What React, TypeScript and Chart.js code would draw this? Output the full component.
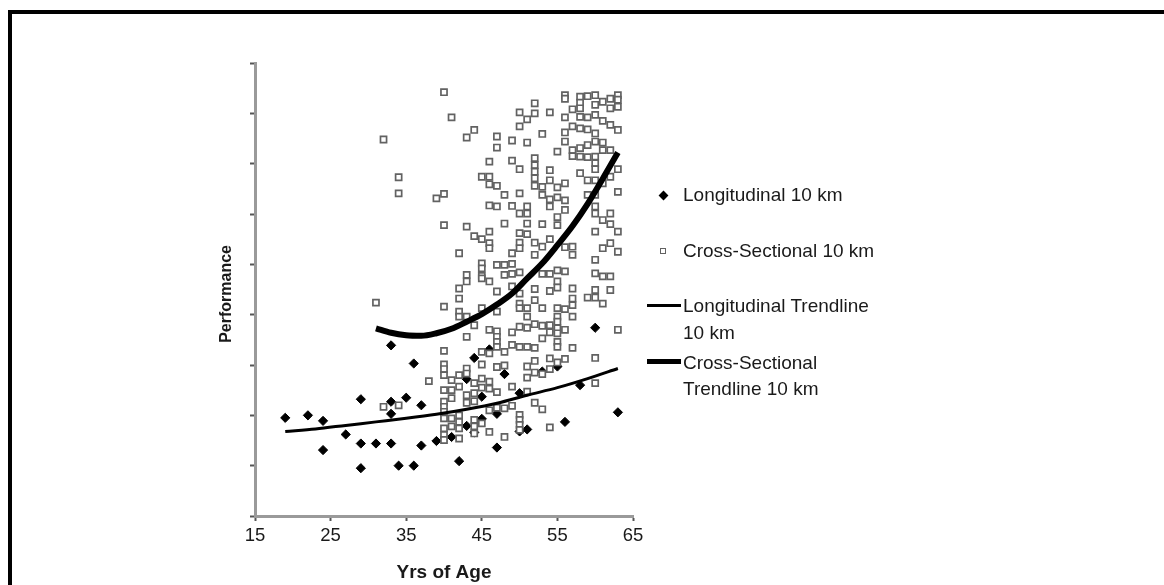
import React, { useEffect, useRef } from "react";
import { Chart, registerables } from "chart.js";

Chart.register(...registerables);

const FONT = '"Liberation Sans", Arial, sans-serif';
const TEXT = "#1a1a1a";

// X axis ticks (years of age)
const xMin = 15;
const xMax = 65;
const xStep = 10;
// Y axis (performance, unlabelled ticks)
const yMin = 0;
const yMax = 9;
const yStep = 1;

const legendLabels = [
  "Longitudinal 10 km",
  "Cross-Sectional 10 km",
  "Longitudinal Trendline 10 km",
  "Cross-Sectional Trendline 10 km",
];

// Longitudinal 10 km (diamonds)
const longitudinalAge = [19, 22, 24, 24, 27, 29, 29, 29, 31, 33, 33, 33, 33, 34, 35, 36, 36, 37, 37, 39, 41, 42, 43, 43, 44, 44, 45, 45, 46, 47, 47, 48, 50, 50, 51, 53, 55, 56, 58, 60, 63];
const longitudinalPerf = [1.95, 2.0, 1.89, 1.31, 1.62, 2.32, 1.44, 0.95, 1.44, 3.39, 2.27, 2.03, 1.44, 1.0, 2.35, 3.03, 1.0, 2.2, 1.4, 1.49, 1.57, 1.09, 1.79, 2.72, 3.14, 1.66, 2.37, 1.93, 3.31, 2.03, 1.36, 2.82, 2.44, 1.68, 1.72, 2.87, 2.97, 1.87, 2.6, 3.74, 2.06];

// Cross-Sectional 10 km (open squares): [age, performances at that age]
const crossSectional: [number, number[]][] = [
  [31, [4.24]],
  [32, [7.48, 2.17]],
  [34, [6.73, 6.41, 2.2]],
  [38, [2.68]],
  [39, [6.31]],
  [40, [8.42, 6.4, 5.78, 4.16, 3.28, 3.01, 2.92, 2.8, 2.5, 2.27, 2.17, 2.07, 1.94, 1.74, 1.61, 1.51]],
  [41, [7.92, 2.7, 2.5, 2.34, 1.94, 1.78]],
  [42, [5.22, 4.52, 4.32, 4.06, 3.96, 2.8, 2.57, 2.0, 1.87, 1.74, 1.54]],
  [43, [7.52, 5.75, 4.79, 4.66, 3.96, 3.56, 2.93, 2.83, 2.4, 2.25]],
  [44, [7.67, 5.56, 3.79, 2.64, 2.44, 2.28, 1.91, 1.78, 1.64]],
  [45, [6.74, 5.5, 5.02, 4.92, 4.77, 4.72, 4.13, 3.26, 3.01, 2.73, 2.55, 1.84]],
  [46, [7.04, 6.74, 6.59, 6.17, 5.65, 5.42, 5.32, 4.66, 3.7, 3.23, 2.67, 2.53, 2.1, 1.67]],
  [47, [7.54, 7.32, 6.56, 6.15, 4.99, 4.46, 4.06, 3.67, 3.56, 3.46, 3.36, 2.96, 2.46, 2.15]],
  [48, [6.38, 5.81, 4.99, 4.79, 3.26, 2.99, 2.14, 1.57]],
  [49, [7.46, 7.06, 6.16, 5.22, 5.01, 4.81, 4.56, 3.65, 3.4, 2.57, 2.19]],
  [50, [8.02, 7.74, 6.89, 6.41, 6.01, 5.62, 5.43, 5.32, 4.84, 4.42, 4.22, 4.13, 3.76, 3.36, 2.01, 1.91, 1.81, 1.71]],
  [51, [7.88, 7.42, 6.15, 6.01, 5.81, 5.6, 4.13, 3.96, 3.74, 3.36, 2.97, 2.75, 2.47]],
  [52, [8.2, 8.0, 7.11, 6.97, 6.84, 6.71, 6.56, 5.43, 5.19, 4.51, 4.29, 3.81, 3.34, 3.08, 2.85, 2.25]],
  [53, [7.59, 6.54, 6.38, 5.8, 5.35, 4.81, 4.13, 3.78, 3.53, 2.82, 2.12]],
  [54, [8.02, 6.87, 6.67, 6.29, 6.15, 5.5, 4.81, 4.47, 3.79, 3.65, 3.13, 2.92, 1.76]],
  [55, [7.24, 6.53, 6.33, 5.94, 5.78, 4.88, 4.66, 4.54, 4.13, 3.96, 3.86, 3.73, 3.63, 3.46, 3.36, 3.05]],
  [56, [8.36, 8.29, 7.92, 7.62, 7.44, 6.61, 6.27, 6.08, 5.34, 4.86, 4.11, 3.7, 3.12]],
  [57, [8.08, 7.74, 7.27, 7.15, 5.35, 5.19, 4.52, 4.32, 4.19, 3.96, 3.34]],
  [58, [8.33, 8.21, 8.1, 7.93, 7.7, 7.31, 7.14, 6.81]],
  [59, [8.34, 7.92, 7.68, 7.37, 7.13, 6.67, 6.38, 4.34]],
  [60, [8.36, 8.17, 7.97, 7.6, 7.44, 7.14, 7.01, 6.89, 6.67, 6.38, 6.15, 6.01, 5.65, 5.09, 4.82, 4.49, 4.34, 3.14, 2.64]],
  [61, [8.23, 7.85, 7.42, 7.27, 6.61, 5.88, 5.32, 4.76, 4.22]],
  [62, [8.29, 8.1, 7.77, 7.27, 6.74, 6.01, 5.8, 5.42, 4.76, 4.49]],
  [63, [8.36, 8.27, 8.13, 7.67, 6.89, 6.44, 5.65, 5.25, 3.7]],
];

// Trendlines
const longTrendAge = [19, 23, 27, 31, 35, 39, 43, 47, 51, 55, 59, 63];
const longTrendPerf = [1.68, 1.73, 1.8, 1.87, 1.94, 2.02, 2.12, 2.24, 2.4, 2.55, 2.73, 2.93];
const crossTrendAge = [31, 33, 35, 37, 39, 41, 43, 45, 47, 49, 51, 53, 55, 57, 59, 61, 63];
const crossTrendPerf = [3.73, 3.64, 3.59, 3.58, 3.63, 3.72, 3.86, 4.01, 4.2, 4.42, 4.72, 5.02, 5.38, 5.76, 6.2, 6.7, 7.22];

const zip = (xs: number[], ys: number[]) => xs.map((x, i) => ({ x, y: ys[i] }));

export default function App() {
  const ref = useRef<HTMLCanvasElement>(null);

  useEffect(() => {
    if (!ref.current) return;
    const crossPoints = crossSectional.flatMap(([age, vals]) => vals.map((v) => ({ x: age, y: v })));
    const chart = new Chart(ref.current, {
      type: "scatter",
      data: {
        datasets: [
          {
            label: legendLabels[0],
            data: zip(longitudinalAge, longitudinalPerf),
            pointStyle: "rectRot",
            pointRadius: 4.6,
            backgroundColor: "#000",
            borderColor: "#000",
            borderWidth: 1,
            order: 3,
          },
          {
            label: legendLabels[1],
            data: crossPoints,
            pointStyle: "rect",
            pointRadius: 4.3,
            backgroundColor: "#fff",
            borderColor: "#626262",
            borderWidth: 1.7,
            order: 2,
          },
          {
            label: legendLabels[2],
            data: zip(longTrendAge, longTrendPerf),
            showLine: true,
            pointRadius: 0,
            borderColor: "#000",
            borderWidth: 3,
            cubicInterpolationMode: "monotone",
            order: 1,
          } as any,
          {
            label: legendLabels[3],
            data: zip(crossTrendAge, crossTrendPerf),
            showLine: true,
            pointRadius: 0,
            borderColor: "#000",
            borderWidth: 6,
            cubicInterpolationMode: "monotone",
            order: 0,
          } as any,
        ],
      },
      options: {
        responsive: false,
        maintainAspectRatio: false,
        animation: false,
        layout: { padding: { left: 0, top: 63, right: 531, bottom: 0 } },
        plugins: { legend: { display: false }, tooltip: { enabled: false } },
        font: { family: FONT },
        scales: {
          x: {
            type: "linear",
            min: xMin,
            max: xMax,
            ticks: { stepSize: xStep, color: TEXT, font: { size: 18.5, family: FONT }, padding: 4 },
            grid: { drawOnChartArea: false, drawTicks: true, tickLength: 5, tickWidth: 2, tickColor: "#555" },
            border: { display: true, color: "#9a9a9a", width: 3 },
            title: {
              display: true,
              text: "Yrs of Age",
              color: TEXT,
              font: { size: 19, weight: "bold", family: FONT },
              padding: { top: 0, bottom: 1 },
            },
            afterFit: (s: any) => {
              s.height = 69;
            },
          },
          y: {
            type: "linear",
            min: yMin,
            max: yMax,
            ticks: { stepSize: yStep, display: false },
            grid: { drawOnChartArea: false, drawTicks: true, tickLength: 5, tickWidth: 2, tickColor: "#555" },
            border: { display: true, color: "#9a9a9a", width: 3 },
            title: {
              display: true,
              text: "Performance  ",
              color: TEXT,
              font: { size: 16, weight: "bold", family: FONT },
              padding: { top: 217, bottom: 0 },
            },
            afterFit: (s: any) => {
              s.width = 255;
            },
          },
        },
      } as any,
    });
    return () => chart.destroy();
  }, []);

  const textStyle: React.CSSProperties = {
    position: "absolute",
    left: 683,
    fontFamily: FONT,
    fontSize: 19,
    lineHeight: "26.5px",
    color: TEXT,
    whiteSpace: "nowrap",
  };

  return (
    <div style={{ position: "absolute", left: 0, top: 0, width: 1164, height: 585, background: "#fff", overflow: "hidden" }}>
      <div
        style={{
          position: "absolute",
          left: 8,
          top: 10,
          width: 1160,
          height: 580,
          borderTop: "4px solid #000",
          borderLeft: "4px solid #000",
          boxSizing: "border-box",
        }}
      />
      <canvas ref={ref} width={1164} height={585} style={{ position: "absolute", left: 0, top: 0, width: 1164, height: 585 }} />
      {/* legend */}
      <div style={{ position: "absolute", left: 659.5, top: 191.5, width: 7, height: 7, background: "#000", transform: "rotate(45deg)" }} />
      <div style={{ ...textStyle, top: 182 }}>{legendLabels[0]}</div>
      <div style={{ position: "absolute", left: 660, top: 248, width: 6, height: 6, border: "1.5px solid #626262", boxSizing: "border-box" }} />
      <div style={{ ...textStyle, top: 237.5 }}>{legendLabels[1]}</div>
      <div style={{ position: "absolute", left: 647, top: 303.5, width: 34, height: 3, background: "#000" }} />
      <div style={{ ...textStyle, top: 293 }}>
        Longitudinal Trendline
        <br />
        10 km
      </div>
      <div style={{ position: "absolute", left: 647, top: 358.5, width: 34, height: 5, background: "#000" }} />
      <div style={{ ...textStyle, top: 349.5 }}>
        Cross-Sectional
        <br />
        Trendline 10 km
      </div>
    </div>
  );
}
